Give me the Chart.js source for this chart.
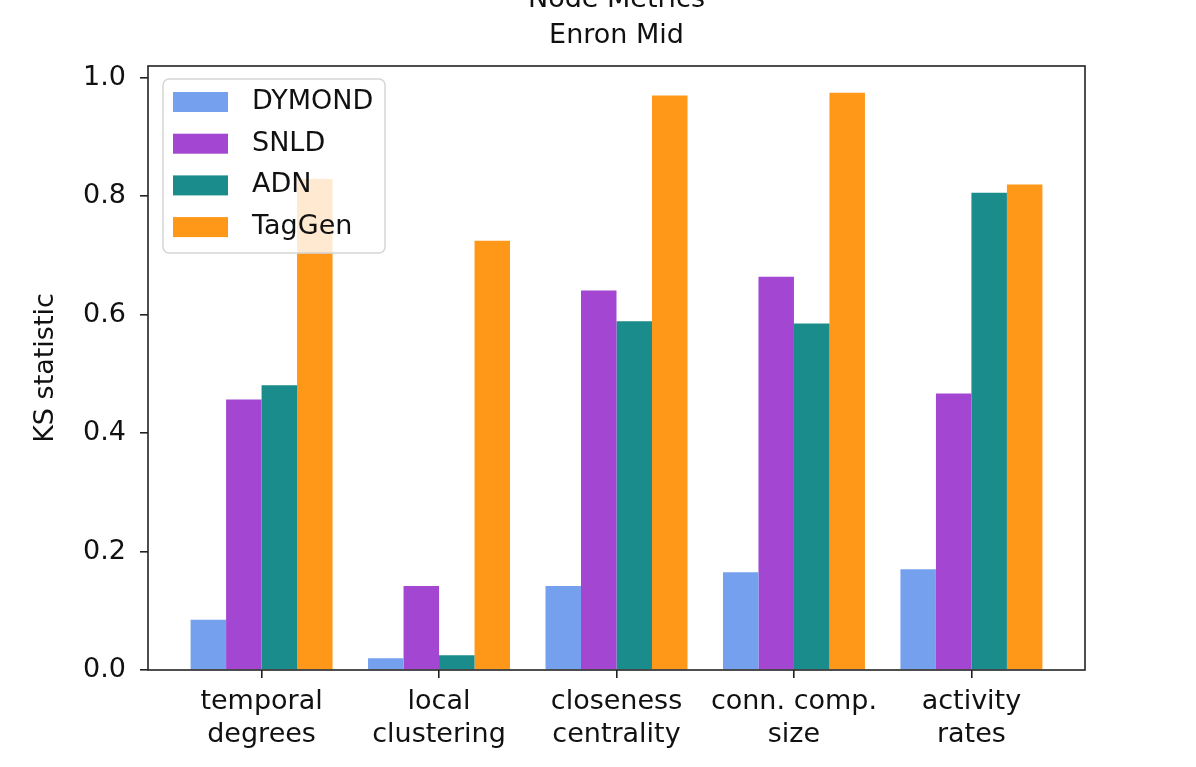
<!DOCTYPE html>
<html>
<head>
<meta charset="utf-8">
<script src="https://cdn.jsdelivr.net/npm/chart.js@4.4.1/dist/chart.umd.min.js"></script>
<style>
  html, body { margin: 0; padding: 0; background: #fff; overflow: hidden; }
  #wrap { position: relative; width: 1196px; height: 767px; }
</style>
</head>
<body>
<div id="wrap"><canvas id="chart"></canvas></div>
<script>
// data
const categories = [
    ['temporal', 'degrees'],
    ['local', 'clustering'],
    ['closeness', 'centrality'],
    ['conn. comp.', 'size'],
    ['activity', 'rates']
];
const seriesNames = ['DYMOND', 'SNLD', 'ADN', 'TagGen'];
const dymond = [0.085, 0.020, 0.142, 0.165, 0.170];
const snld   = [0.457, 0.142, 0.641, 0.664, 0.467];
const adn    = [0.481, 0.025, 0.589, 0.585, 0.806];
const taggen = [0.829, 0.725, 0.970, 0.975, 0.820];
const yTicks = [0.0, 0.2, 0.4, 0.6, 0.8, 1.0];
const titleLines = ['Node Metrics', 'Enron Mid'];
const yTitle = 'KS statistic';

const colors = ['#74a0ee', '#a346d1', '#198c8b', '#ff9719'];
const FONT = 'DejaVu Sans';
const FS = 27;

const allSeries = [dymond, snld, adn, taggen];
const datasets = allSeries.map((vals, k) => ({
    label: seriesNames[k],
    data: vals.map((v, i) => ({ x: i, y: v })),
    backgroundColor: colors[k],
    borderWidth: 0,
    categoryPercentage: 0.8,
    barPercentage: 1.0
}));

// box round the plot + title above it
const framePlugin = {
    id: 'frame',
    afterDatasetsDraw(chart) {
        const a = chart.chartArea, ctx = chart.ctx;
        ctx.save();
        ctx.strokeStyle = '#222';
        ctx.lineWidth = 1.6;
        ctx.strokeRect(a.left, a.top, a.right - a.left, a.bottom - a.top);
        ctx.fillStyle = '#111';
        ctx.font = FS + 'px "' + FONT + '"';
        ctx.textAlign = 'center';
        ctx.textBaseline = 'middle';
        const cx = (a.left + a.right) / 2;
        ctx.fillText(titleLines[0], cx, a.top - 66);
        ctx.fillText(titleLines[1], cx, a.top - 30);
        ctx.restore();
    }
};

// legend in the upper left corner, inside the axes
const legendPlugin = {
    id: 'innerLegend',
    afterDraw(chart) {
        const a = chart.chartArea, ctx = chart.ctx;
        const x0 = a.left + 15, y0 = a.top + 13, w = 222, h = 174, r = 6;
        ctx.save();
        ctx.beginPath();
        ctx.roundRect(x0, y0, w, h, r);
        ctx.fillStyle = 'rgba(255,255,255,0.8)';
        ctx.fill();
        ctx.strokeStyle = '#d6d6d6';
        ctx.lineWidth = 1.5;
        ctx.stroke();
        ctx.font = FS + 'px "' + FONT + '"';
        ctx.textBaseline = 'middle';
        ctx.textAlign = 'left';
        chart.data.datasets.forEach((ds, k) => {
            const cy = y0 + 23 + k * 41.7;
            ctx.fillStyle = ds.backgroundColor;
            ctx.fillRect(x0 + 10, cy - 10, 55, 20);
            ctx.fillStyle = '#111';
            ctx.fillText(ds.label, x0 + 89, cy);
        });
        ctx.restore();
    }
};

Chart.defaults.font.family = FONT;
Chart.defaults.font.size = FS;
Chart.defaults.color = '#111';

new Chart(document.getElementById('chart'), {
    type: 'bar',
    data: { datasets },
    options: {
        responsive: true,
        maintainAspectRatio: false,
        animation: false,
        layout: { padding: { top: 66, right: 111, left: 0, bottom: 0 } },
        plugins: { legend: { display: false }, tooltip: { enabled: false }, title: { display: false } },
        scales: {
            x: {
                type: 'linear',
                min: -0.64,
                max: 4.64,
                offset: false,
                grid: { display: true, offset: false, drawOnChartArea: false, drawTicks: true, tickLength: 8, color: '#222', lineWidth: 1.6 },
                border: { display: false },
                afterBuildTicks: s => { s.ticks = categories.map((_, i) => ({ value: i })); },
                afterFit: s => { s.height = 97; },
                ticks: {
                    autoSkip: false,
                    maxRotation: 0,
                    padding: 8,
                    font: { size: FS, lineHeight: 1.2 },
                    callback: v => categories[v]
                }
            },
            y: {
                min: 0,
                max: 1.02,
                grid: { display: true, drawOnChartArea: false, drawTicks: true, tickLength: 8, color: '#222', lineWidth: 1.6 },
                border: { display: false },
                afterBuildTicks: s => { s.ticks = yTicks.map(v => ({ value: v })); },
                afterFit: s => { s.width = 148; },
                ticks: {
                    padding: 14,
                    callback: v => v.toFixed(1)
                },
                title: {
                    display: true,
                    text: yTitle,
                    font: { size: FS },
                    padding: { top: 30, bottom: 0 }
                }
            }
        }
    },
    plugins: [framePlugin, legendPlugin]
});
</script>
</body>
</html>
